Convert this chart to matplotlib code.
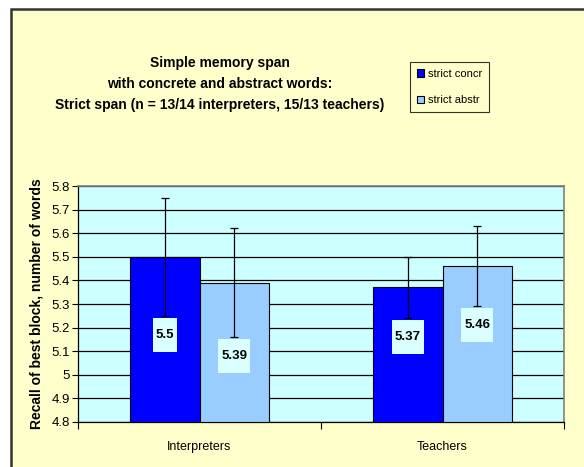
import matplotlib
matplotlib.use("Agg")
import matplotlib.pyplot as plt
import matplotlib.patches as patches
from matplotlib.ticker import FormatStrFormatter, FixedLocator
import numpy as np

plt.rcParams['font.family'] = ['Liberation Sans', 'DejaVu Sans']

groups = ['Interpreters', 'Teachers']
series = ['strict concr', 'strict abstr']
concr_means = [5.5, 5.37]
abstr_means = [5.39, 5.46]
concr_err = [0.25, 0.13]
abstr_err = [0.23, 0.17]

colors = ['#0000FF', '#99CCFF']
chart_bg = '#FFFFCC'
plot_bg = '#CCFFFF'

W, H = 584, 467
fig = plt.figure(figsize=(W / 100, H / 100), dpi=100)
fig.patch.set_facecolor('white')

# chart area with border on top/left
fig.patches.append(patches.Rectangle((10.5 / W, -0.1), 1.2, 1.1 - 9 / H,
                                     transform=fig.transFigure, facecolor=chart_bg,
                                     edgecolor='#333333', linewidth=1.8, zorder=-5))

ax = fig.add_axes([78 / W, 1 - 422 / H, 486 / W, 236 / H])
ax.set_facecolor(plot_bg)

x = np.arange(len(groups))
width = 1 / 3.5
means = [concr_means, abstr_means]
errs = [concr_err, abstr_err]
for i, (m, e) in enumerate(zip(means, errs)):
    xs = x + (i - 0.5) * width
    ax.bar(xs, [v - 4.8 for v in m], width, bottom=4.8, color=colors[i],
           edgecolor='black', linewidth=0.8, label=series[i], zorder=3)
    ax.errorbar(xs, m, yerr=e, fmt='none', ecolor='black', elinewidth=0.9,
                capsize=3, capthick=0.9, zorder=4)
    for xi, v, ei in zip(xs, m, e):
        # blank lines above/below make the label box taller than wide
        ax.text(xi, v - ei - 0.08, '\n%g\n' % v, ha='center', va='center',
                fontsize=9.5, fontweight='bold', zorder=5, linespacing=0.55,
                bbox=dict(boxstyle='square,pad=0.22', facecolor='#D9FFFF', edgecolor='none'))

ax.set_xlim(-0.5, 1.5)
ax.set_ylim(4.8, 5.8)
ax.set_yticks(np.arange(4.8, 5.81, 0.1))
ax.yaxis.set_major_formatter(FormatStrFormatter('%g'))
ax.yaxis.grid(True, color='black', linewidth=0.9)
ax.set_axisbelow(True)
ax.tick_params(axis='y', labelsize=9.5, length=4, width=0.8, direction='out', pad=2)

ax.set_xticks(x)
ax.set_xticklabels(groups)
ax.xaxis.set_minor_locator(FixedLocator([-0.5, 0.5, 1.5]))
ax.tick_params(axis='x', which='major', length=0, labelsize=9, pad=14)
ax.tick_params(axis='x', which='minor', length=5, width=0.8, direction='out')

for s in ['top', 'right']:
    ax.spines[s].set_color('#808080')
    ax.spines[s].set_linewidth(1.2)
for s in ['left', 'bottom']:
    ax.spines[s].set_color('black')
    ax.spines[s].set_linewidth(0.9)

fig.text(220 / W, 1 - 84 / H,
         'Simple memory span\nwith concrete and abstract words:\n'
         'Strict span (n = 13/14 interpreters, 15/13 teachers)',
         ha='center', va='center', fontsize=10, fontweight='bold', linespacing=1.65)

fig.text(37 / W, 1 - 304 / H, 'Recall of best block, number of words',
         rotation=90, ha='center', va='center', fontsize=10, fontweight='bold')

handles, labels = ax.get_legend_handles_labels()
leg = fig.legend(handles, labels, loc='upper left', bbox_to_anchor=(410 / W, 1 - 62 / H),
                 fontsize=8, frameon=True, fancybox=False, handlelength=0.7,
                 handleheight=0.7, handletextpad=0.3, labelspacing=1.5,
                 borderpad=0.6, borderaxespad=0)
leg.get_frame().set_facecolor(chart_bg)
leg.get_frame().set_edgecolor('black')
leg.get_frame().set_linewidth(0.8)

fig.savefig('out.png', dpi=100, facecolor=fig.get_facecolor())
